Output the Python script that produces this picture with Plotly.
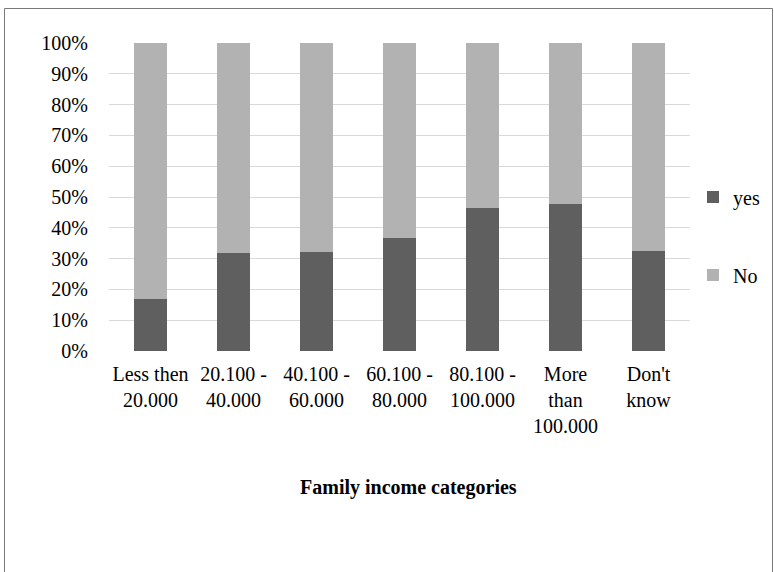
import plotly.graph_objects as go

# Family income categories and share of respondents answering yes / no (in %)
categories = [
    "Less then<br>20.000",
    "20.100 -<br>40.000",
    "40.100 -<br>60.000",
    "60.100 -<br>80.000",
    "80.100 -<br>100.000",
    "More<br>than<br>100.000",
    "Don't<br>know",
]
yes_pct = [16.9, 31.9, 32.2, 36.6, 46.5, 47.8, 32.6]
no_pct = [round(100 - v, 1) for v in yes_pct]

W, H = 774, 572
ML, MR, MT, MB = 109, 84, 43, 221
PW = W - ML - MR
PH = H - MT - MB

FONT = "Liberation Serif, Times New Roman, serif"

fig = go.Figure()
fig.add_trace(go.Bar(
    x=categories, y=[v / 100 for v in yes_pct], name="yes",
    marker=dict(color="#5f5f5f", line=dict(width=0)),
    legend="legend", showlegend=True,
))
fig.add_trace(go.Bar(
    x=categories, y=[v / 100 for v in no_pct], name="No",
    marker=dict(color="#b2b2b2", line=dict(width=0)),
    legend="legend2", showlegend=True,
))

def px_to_paper_x(px):
    return (px - ML) / PW

def px_to_paper_y(py):
    return (H - MB - py) / PH

legend_common = dict(
    xanchor="left", yanchor="middle",
    font=dict(family=FONT, size=20, color="#000000"),
    bgcolor="rgba(0,0,0,0)", borderwidth=0,
    itemwidth=30, visible=True,
)

fig.update_layout(
    width=W, height=H,
    margin=dict(l=ML, r=MR, t=MT, b=MB, pad=0, autoexpand=False),
    paper_bgcolor="white", plot_bgcolor="white",
    barmode="stack", bargap=0.6,
    showlegend=True,
    font=dict(family=FONT, size=20, color="#000000"),
    legend=dict(x=px_to_paper_x(693), y=px_to_paper_y(197), **legend_common),
    legend2=dict(x=px_to_paper_x(693), y=px_to_paper_y(275), **legend_common),
    xaxis=dict(
        showgrid=False, showline=False, zeroline=False, ticks="",
        tickfont=dict(family=FONT, size=20, color="#000000"),
        ticklabelstandoff=9, automargin=False,
    ),
    yaxis=dict(
        range=[0, 1], dtick=0.1, tickformat=".0%",
        showgrid=True, gridcolor="#d9d9d9", gridwidth=1,
        zeroline=False, showline=False, ticks="",
        tickfont=dict(family=FONT, size=20, color="#000000"),
        ticklabelstandoff=20, automargin=False,
    ),
    annotations=[dict(
        text="<b>Family income categories</b>",
        xref="paper", yref="paper",
        x=px_to_paper_x(408), y=px_to_paper_y(487),
        xanchor="center", yanchor="middle", showarrow=False,
        font=dict(family=FONT, size=20, color="#000000"),
    )],
    shapes=[dict(
        type="rect", xref="paper", yref="paper",
        x0=px_to_paper_x(4.5), x1=px_to_paper_x(772.5),
        y0=px_to_paper_y(590), y1=px_to_paper_y(8.5),
        line=dict(color="#7a7a7a", width=1), fillcolor="rgba(0,0,0,0)",
        layer="above",
    )],
)

fig.write_html("out.html")
